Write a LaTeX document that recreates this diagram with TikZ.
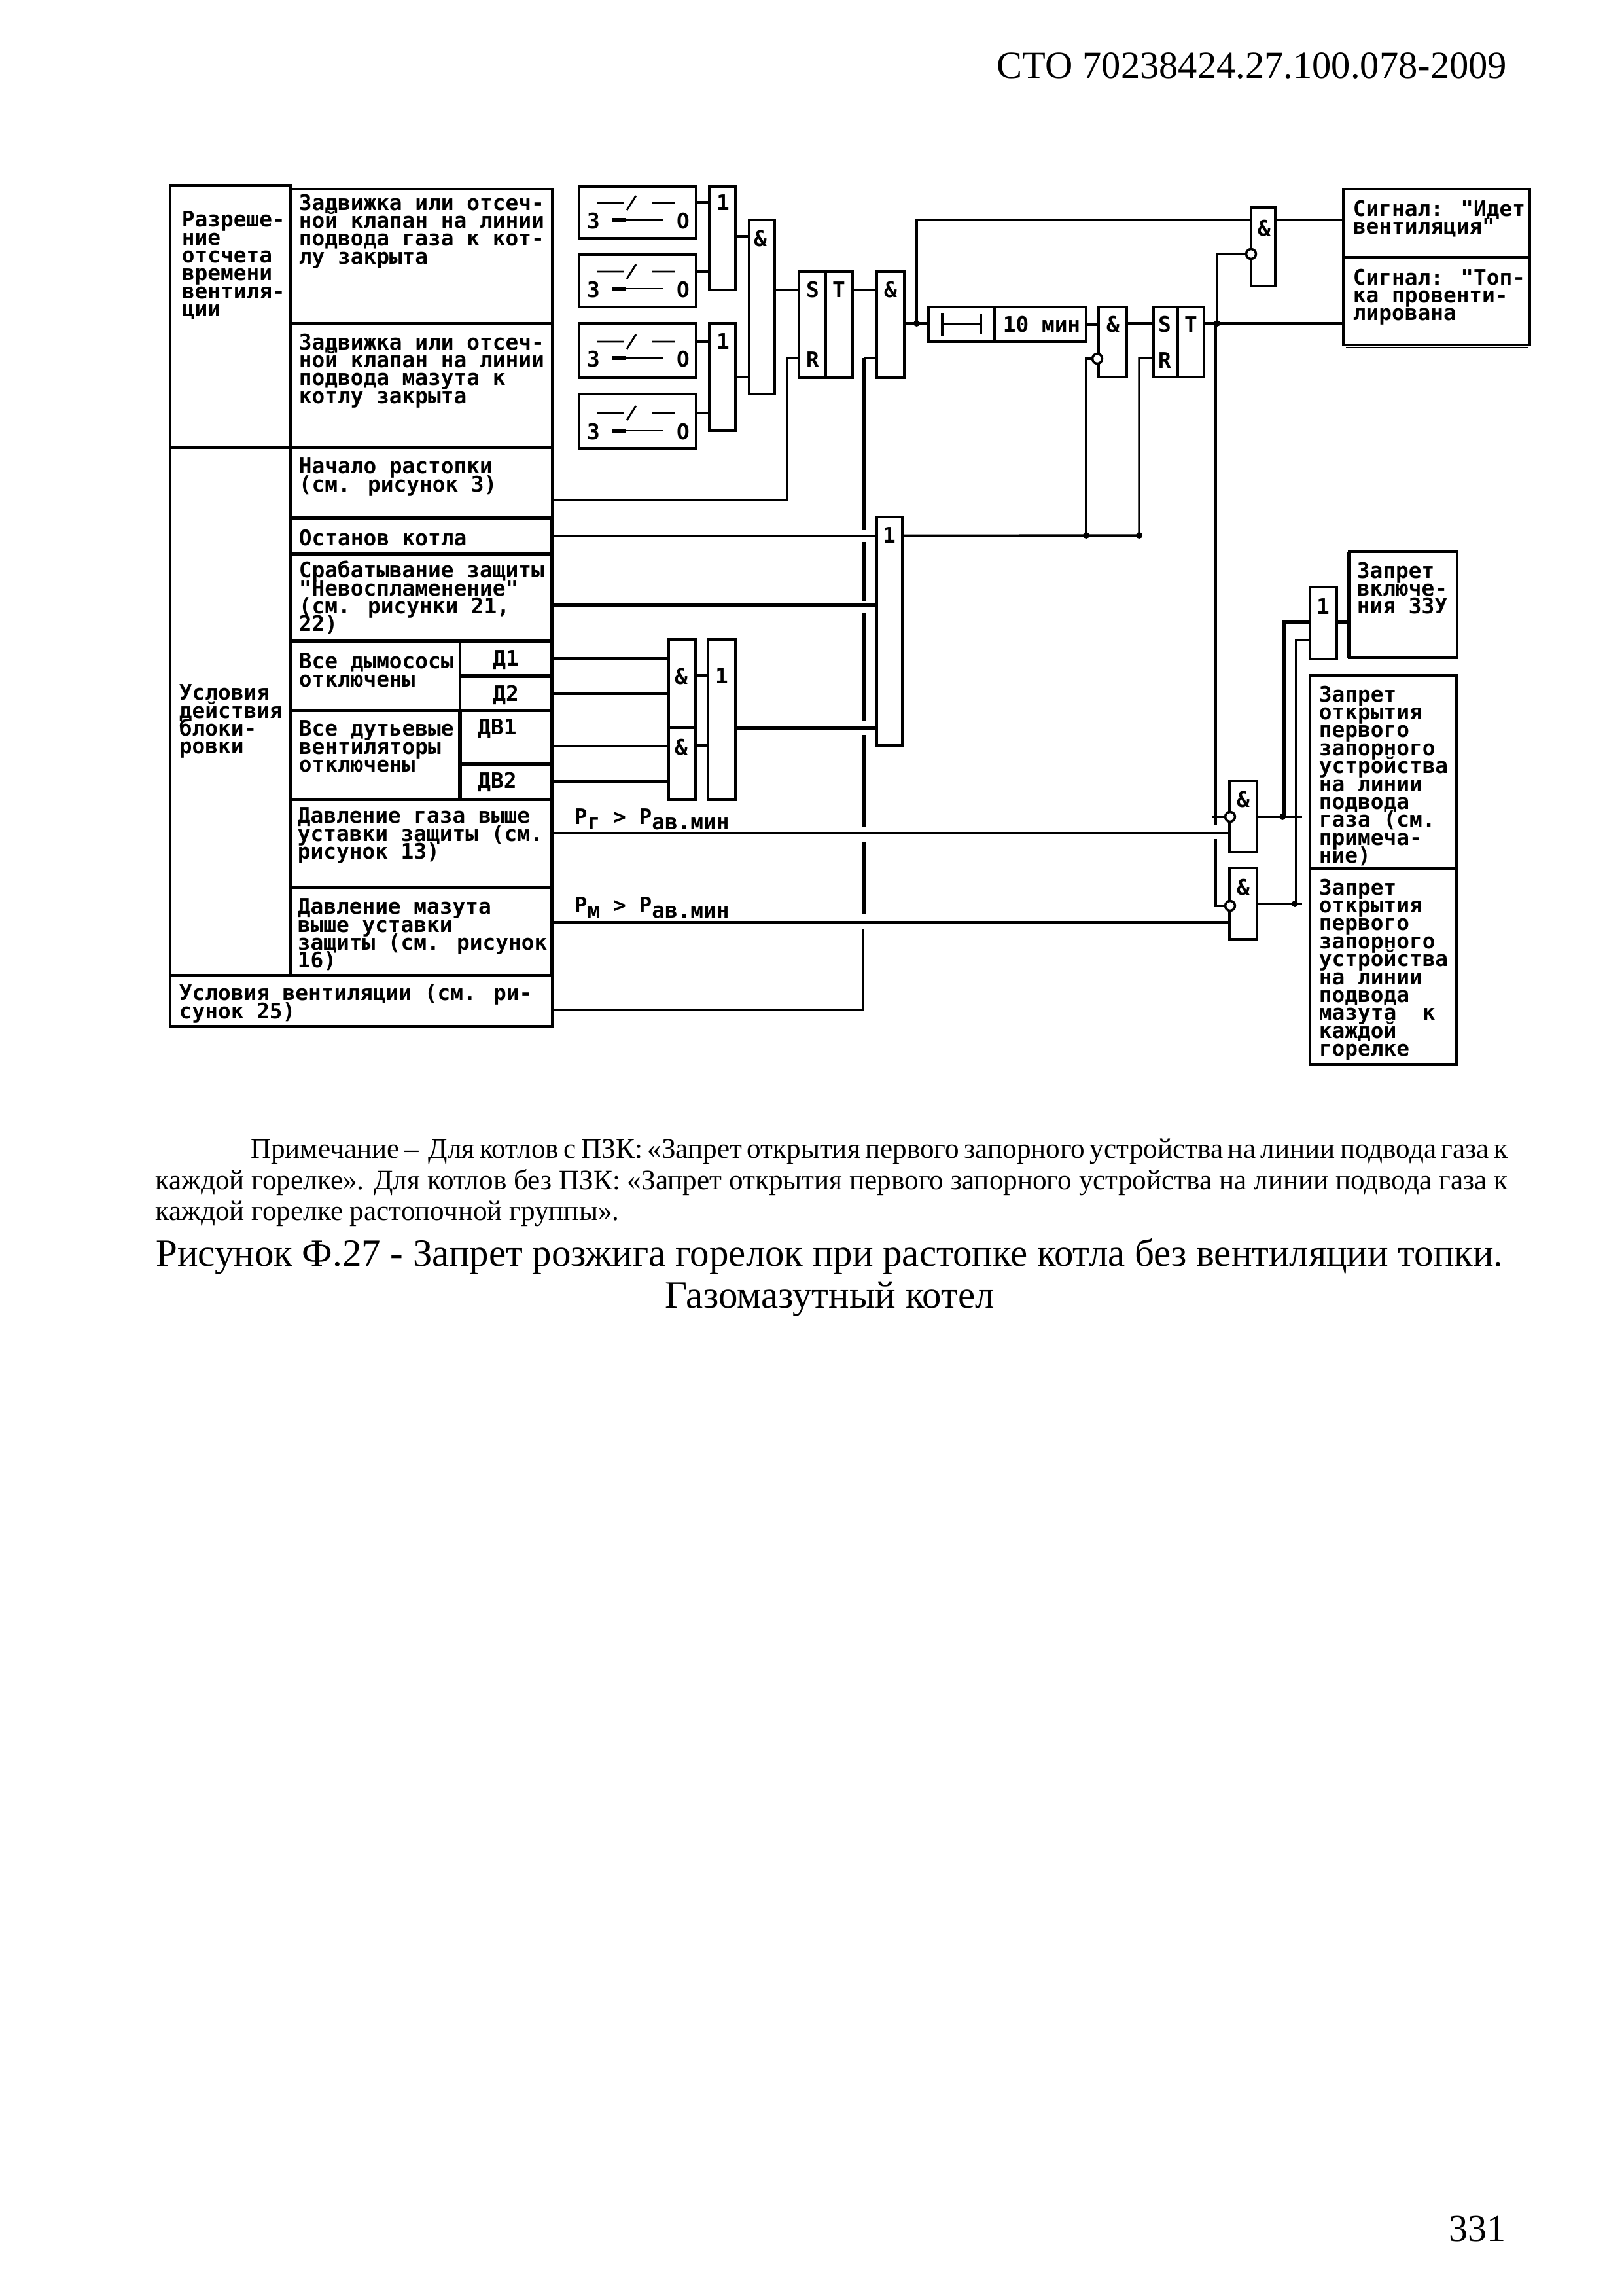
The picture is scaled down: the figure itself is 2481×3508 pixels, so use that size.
\documentclass[tikz,border=0pt]{standalone}
\usepackage{fontspec}
\setmainfont{Liberation Serif}
\newfontfamily\blockfont{DejaVu Sans Mono}
\usetikzlibrary{fit,calc}
\lineskiplimit=-20pt
\newcommand{\lowsub}[1]{\raisebox{-1.9pt}{#1}}
\begin{document}
\begin{tikzpicture}[
    x=0.0084667cm, y=-0.0084667cm,
    wire/.style={line width=0.85pt},
    wirethk/.style={line width=1.5pt},
    cell/.style={rectangle, draw, line width=0.85pt, inner sep=0pt, outer sep=0pt},
    gate/.style={cell},
    lbl/.style={font=\blockfont\bfseries\fontsize{7.9pt}{6.6pt}\selectfont, inner sep=0pt, align=left, anchor=north west},
    sign/.style={font=\blockfont\bfseries\fontsize{7.9pt}{6.6pt}\selectfont, inner sep=0pt},
    inv/.style={circle, draw, fill=white, line width=0.85pt, inner sep=0pt, minimum size=3.6pt},
    dot/.style={circle, fill=black, inner sep=0pt, minimum size=2.4pt}
  ]
    \useasboundingbox (0,0) rectangle (2481,3508);

    % -- page texts --
    \node[font=\fontsize{14.1pt}{16pt}\selectfont, inner sep=0pt, anchor=east] (pagehead) at (2304,100) {СТО 70238424.27.100.078-2009};
    \node[font=\fontsize{10.4pt}{11.5pt}\selectfont, inner sep=0pt, anchor=north west, text width=17.5cm, align=justify] (note) at (237,1739)
      {\hspace*{1.23cm}Примечание –\ \ Для котлов с ПЗК: «Запрет открытия первого запорного устройства на линии подвода газа к\linebreak
      каждой горелке». Для котлов без ПЗК: «Запрет открытия первого запорного устройства на линии подвода газа к\linebreak
      каждой горелке растопочной группы».};
    \node[font=\fontsize{14.2pt}{15.5pt}\selectfont, inner sep=0pt, align=center, anchor=north] (caption) at (1268,1891)
      {Рисунок Ф.27 - Запрет розжига горелок при растопке котла без вентиляции топки.\\Газомазутный котел};
    \node[font=\fontsize{14pt}{16pt}\selectfont, inner sep=0pt, anchor=east] (pagenum) at (2302,3406) {331};

    % -- table, left column --
    \node[cell, fit={(260,283)(444,684)}] (permit) {};
    \node[cell, fit={(260,684)(444,1490)}] (cond) {};
    \node[cell, fit={(260,1490)(844,1568)}] (vent) {};

    % -- table, rows --
    \node[cell, fit={(444,289)(844,494)}] (gasvalve) {};
    \node[cell, fit={(444,494)(844,684)}] (oilvalve) {};
    \node[cell, fit={(444,684)(844,791)}] (start) {};
    \node[cell, fit={(444,791)(844,846)}] (stop) {};
    \node[cell, fit={(444,846)(844,979)}] (noflame) {};
    \node[cell, fit={(444,979)(703,1086)}] (fans) {};
    \node[cell, fit={(703,979)(844,1033)}] (done) {};
    \node[cell, fit={(703,1033)(844,1086)}] (dtwo) {};
    \node[cell, fit={(444,1086)(703,1221)}] (blowers) {};
    \node[cell, fit={(703,1086)(844,1167)}] (dvone) {};
    \node[cell, fit={(703,1167)(844,1221)}] (dvtwo) {};
    \node[cell, fit={(444,1221)(844,1356)}] (gasp) {};
    \node[cell, fit={(444,1356)(844,1490)}] (oilp) {};
    \draw[line width=1.4pt] (permit.north east) -- (cond.north east);
    \draw[line width=1.3pt] (stop.north east) -- (oilp.south east);
    \draw[line width=1.2pt] (start.north west) -- (start.north east);
    \draw[line width=1.3pt] (stop.north west) -- (stop.north east);
    \draw[line width=1.4pt] (noflame.north west) -- (noflame.north east);
    \draw[line width=1.6pt] (noflame.south west) -- (noflame.south east);
    \draw[line width=1.1pt] (done.north west) -- (dtwo.south west);
    \draw[line width=1.3pt] (done.south west) -- (done.south east);
    \draw[line width=1.4pt] (dvone.north west) -- (dvtwo.south west);
    \draw[line width=1.3pt] (dvone.south west) -- (dvone.south east);
    \draw[line width=1.2pt] (gasp.north west) -- (gasp.north east);

    \node[lbl] (permittxt) at (277,322) {Разреше-\\ние\\отсчета\\времени\\вентиля-\\ции};
    \node[lbl] (condtxt) at (273,1045) {Условия\\действия\\блоки-\\ровки};
    \node[lbl] (venttxt) at (273,1503) {Условия вентиляции (см. ри-\\сунок 25)};
    \node[lbl] (gasvalvetxt) at (456,296) {Задвижка или отсеч-\\ной клапан на линии\\подвода газа к кот-\\лу закрыта};
    \node[lbl] (oilvalvetxt) at (456,509) {Задвижка или отсеч-\\ной клапан на линии\\подвода мазута к\\котлу закрыта};
    \node[lbl] (starttxt) at (456,699) {Начало растопки\\(см. рисунок 3)};
    \node[lbl] (stoptxt) at (456,808) {Останов котла};
    \node[lbl] (noflametxt) at (456,856) {Срабатывание защиты\\"Невоспламенение"\\(см. рисунки 21,\\22)};
    \node[lbl] (fanstxt) at (456,997) {Все дымососы\\отключены};
    \node[lbl] (blowerstxt) at (456,1100) {Все дутьевые\\вентиляторы\\отключены};
    \node[lbl] (gasptxt) at (454,1233) {Давление газа выше\\уставки защиты (см.\\рисунок 13)};
    \node[lbl] (oilptxt) at (454,1372) {Давление мазута\\выше уставки\\защиты (см. рисунок\\16)};
    \node[sign] (donetxt) at (773,1008) {Д1};
    \node[sign] (dtwotxt) at (773,1062) {Д2};
    \node[sign] (dvonetxt) at (760,1113) {ДВ1};
    \node[sign] (dvtwotxt) at (760,1195) {ДВ2};
    \node[lbl] (gasplbl) at (877,1235) {P\lowsub{г} > P\lowsub{ав.мин}};
    \node[lbl] (oilplbl) at (877,1370) {P\lowsub{м} > P\lowsub{ав.мин}};

    % -- limit switches --
    \node[cell, fit={(885,285)(1064,364)}] (swa) {};
    \node[cell, fit={(885,389)(1064,469)}] (swb) {};
    \node[cell, fit={(885,494)(1064,577)}] (swc) {};
    \node[cell, fit={(885,602)(1064,685)}] (swd) {};
    \foreach \sw/\yu/\yl in {swa/310/336, swb/415/441, swc/522/547, swd/631/658} {
      \draw[line width=0.7pt] (913,\yu) -- (953,\yu) (958,\yu+11) -- (972,\yu-11) (996,\yu) -- (1031,\yu);
      \draw[line width=0.7pt] (936,\yl) -- (1014,\yl);
      \draw[line width=1.5pt] (936,\yl) -- (956,\yl);
      \node[sign] (\sw z) at (907,\yl+2) {З};
      \node[sign] (\sw o) at (1044,\yl+2) {О};
    }

    % -- first row of gates --
    \node[gate, fit={(1084,285)(1124,443)}] (ora) {};
    \node[sign] (orasign) at (1105,310) {1};
    \node[gate, fit={(1084,494)(1124,658)}] (orb) {};
    \node[sign] (orbsign) at (1105,522) {1};
    \node[gate, fit={(1145,336)(1184,602)}] (anda) {};
    \node[sign] (andasign) at (1162,365) {\&};
    \node[gate, fit={(1221,415)(1262,577)}] (trga) {};
    \node[gate, fit={(1262,415)(1303,577)}] (trgb) {};
    \node[sign] (trgas) at (1242,443) {S};
    \node[sign] (trgar) at (1242,550) {R};
    \node[sign] (trgbt) at (1282,443) {T};
    \node[gate, fit={(1340,415)(1382,577)}] (andb) {};
    \node[sign] (andbsign) at (1361,443) {\&};

    % -- timer --
    \node[gate, fit={(1419,469)(1520,522)}] (delay) {};
    \node[gate, fit={(1520,469)(1660,522)}] (tenmin) {};
    \node[sign] (tenmintxt) at (1592,496) {10 мин};
    \draw[wire] (1440,478) -- (1440,513) (1440,495) -- (1499,495) (1499,480) -- (1499,510);
    \node[gate, fit={(1679,469)(1722,576)}] (andc) {};
    \node[sign] (andcsign) at (1701,496) {\&};
    \node[gate, fit={(1763,469)(1800,576)}] (trgc) {};
    \node[gate, fit={(1800,469)(1840,576)}] (trgd) {};
    \node[sign] (trgcs) at (1780,496) {S};
    \node[sign] (trgcr) at (1780,551) {R};
    \node[sign] (trgdt) at (1820,496) {T};
    \node[inv] (andcinv) at (1677,548) {};

    % -- signal block --
    \node[gate, fit={(1912,317)(1949,437)}] (andd) {};
    \node[sign] (anddsign) at (1932,349) {\&};
    \node[inv] (anddinv) at (1912,388) {};
    \node[cell, fit={(2053,289)(2338,393)}] (siga) {};
    \node[cell, fit={(2053,393)(2338,527)}] (sigb) {};
    \draw[line width=0.5pt] (2057,531) -- (2336,531);
    \node[lbl] (sigatxt) at (2067,305) {Сигнал: "Идет\\вентиляция"};
    \node[lbl] (sigbtxt) at (2067,410) {Сигнал: "Топ-\\ка провенти-\\лирована};

    % -- lower gates --
    \node[gate, fit={(1022,977)(1063,1112)}] (ande) {};
    \node[gate, fit={(1022,1112)(1063,1222)}] (andf) {};
    \node[sign] (andesign) at (1041,1034) {\&};
    \node[sign] (andfsign) at (1041,1142) {\&};
    \node[gate, fit={(1082,977)(1124,1222)}] (orc) {};
    \node[sign] (orcsign) at (1103,1033) {1};
    \node[gate, fit={(1340,790)(1379,1139)}] (ord) {};
    \node[sign] (ordsign) at (1359,818) {1};

    % -- outputs on the right --
    \node[gate, fit={(1879,1193)(1921,1302)}] (andg) {};
    \node[sign] (andgsign) at (1900,1222) {\&};
    \node[inv] (andginv) at (1880,1248) {};
    \node[gate, fit={(1879,1326)(1921,1435)}] (andh) {};
    \node[sign] (andhsign) at (1900,1356) {\&};
    \node[inv] (andhinv) at (1880,1384) {};
    \node[gate, fit={(2002,897)(2043,1007)}] (ore) {};
    \node[sign] (oresign) at (2022,927) {1};
    \node[cell, fit={(2062,843)(2227,1005)}] (ban) {};
    \draw[line width=1.6pt] (ban.north west) -- (ban.south west);
    \node[lbl] (bantxt) at (2073,858) {Запрет\\включе-\\ния ЗЗУ};
    \node[cell, fit={(2002,1032)(2226,1327)}] (bangas) {};
    \node[cell, fit={(2002,1327)(2226,1626)}] (banoil) {};
    \node[lbl] (bangastxt) at (2015,1047) {Запрет\\открытия\\первого\\запорного\\устройства\\на линии\\подвода\\газа (см.\\примеча-\\ние)};
    \node[lbl] (banoiltxt) at (2015,1342) {Запрет\\открытия\\первого\\запорного\\устройства\\на линии\\подвода\\мазута~~к\\каждой\\горелке};

    % -- pins --
    \coordinate (pinstart) at (844,764);
    \coordinate (pinflame) at (844,925);
    \coordinate (pind) at (844,1006);
    \coordinate (pindd) at (844,1060);
    \coordinate (pindv) at (844,1140);
    \coordinate (pindw) at (844,1194);
    \coordinate (pingas) at (844,1273);
    \coordinate (pinoil) at (844,1409);
    \coordinate (pinvent) at (844,1543);
    \coordinate (outgas) at (1990,1248);
    \coordinate (outoil) at (1990,1381);

    % -- wires: switches to gates --
    \draw[wire] (1064,309) -- (ora.west |- 0,309);
    \draw[wire] (1064,415) -- (ora.west |- 0,415);
    \draw[wire] (1064,522) -- (orb.west |- 0,522);
    \draw[wire] (1064,631) -- (orb.west |- 0,631);
    \draw[wire] (1124,361) -- (anda.west |- 0,361);
    \draw[wire] (1124,576) -- (anda.west |- 0,576);
    \draw[wire] (1184,443) -- (trga.west |- 0,443);
    \draw[wire] (pinstart) -- (1203,764) -- (1203,547) -- (trga.west |- 0,547);
    \draw[wire] (1303,443) -- (andb.west |- 0,443);
    \draw[wire] (andb.east |- 0,494) -- (delay.west |- 0,494);
    \draw[wire] (1401,494) -- (1401,336) -- (andd.west |- 0,336);
    \draw[wire] (andd.east |- 0,336) -- (siga.west |- 0,336);
    \draw[wire] (tenmin.east |- 0,496) -- (andc.west |- 0,496);
    \draw[wire] (andc.east |- 0,494) -- (trgc.west |- 0,494);
    \draw[wire] (trgd.east |- 0,494) -- (sigb.west |- 0,494);
    \draw[wire] (1860,494) -- (1860,388) -- (anddinv.west);

    % -- wires: table to gates --
    \draw[wire] (stop.east) -- (ord.west |- stop.east);
    \draw[wirethk] (pinflame) -- (ord.west |- pinflame);
    \draw[wire] (pind) -- (ande.west |- pind);
    \draw[wire] (pindd) -- (ande.west |- pindd);
    \draw[wire] (pindv) -- (andf.west |- pindv);
    \draw[wire] (pindw) -- (andf.west |- pindw);
    \draw[wire] (ande.east |- 0,1032) -- (orc.west |- 0,1032);
    \draw[wire] (andf.east |- 0,1139) -- (orc.west |- 0,1139);
    \draw[wirethk] (orc.east |- 0,1112) -- (ord.west |- 0,1112);
    \draw[wire] (pingas) -- (andg.west |- pingas);
    \draw[wire] (pinoil) -- (andh.west |- pinoil);

    % -- ventilation line with gaps at crossings --
    \draw[wire] (pinvent) -- (1319,1543) -- (1319,1419);
    \foreach \ya/\yb in {1397/1286, 1263/1123, 1102/936, 918/828, 810/547} {
      \draw[line width=1.4pt] (1320,\ya) -- (1320,\yb);
    }
    \draw[wire] (1320,547) -- (andb.west |- 0,547);

    % -- wires: stop line --
    \draw[wire] (ord.east |- stop.east) -- (1741,818) -- (1741,547) -- (trgc.west |- 0,547);
    \draw[wire] (1660,818) -- (1660,548) -- (andcinv.west);
    \node[dot] (joina) at (1660,818) {};
    \node[dot] (joinb) at (1741,818) {};
    \node[dot] (joinc) at (1401,494) {};
    \node[dot] (joind) at (1860,494) {};

    % -- wires: lower right --
    \draw[wire] (1858,494) -- (1858,1260) (1858,1282) -- (1858,1384) -- (andhinv.west);
    \draw[wire] (1853,1248) -- (andginv.west);
    \draw[wire] (andg.east |- outgas) -- (outgas);
    \draw[wire] (andh.east |- outoil) -- (outoil);
    \draw[wirethk] (1962,1248) -- (1962,950) -- (ore.west |- 0,950);
    \draw[wire] (1981,1381) -- (1981,978) -- (ore.west |- 0,978);
    \draw[wirethk] (ore.east |- 0,950) -- (ban.west |- 0,950);
    \node[dot] (joine) at (1960,1248) {};
    \node[dot] (joinf) at (1979,1381) {};
  \end{tikzpicture}
\end{document}
